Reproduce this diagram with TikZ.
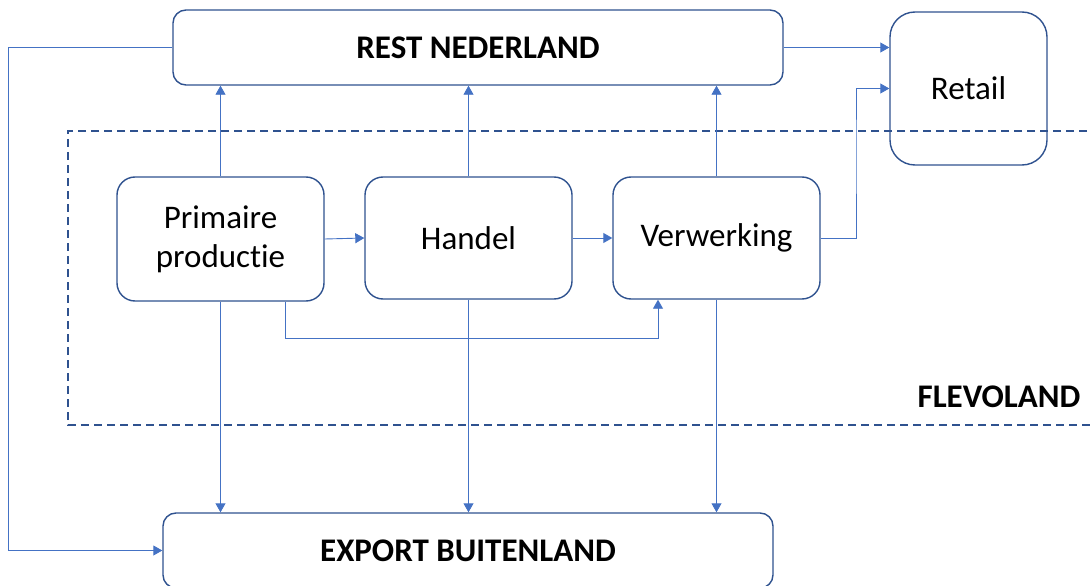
\documentclass[tikz,border=0pt]{standalone}
\usepackage{fontspec}
\setmainfont{Carlito}[Ligatures=NoCommon]
\usetikzlibrary{arrows.meta}
\definecolor{ketenRand}{HTML}{2F528F}
\definecolor{ketenLijn}{HTML}{4472C4}
\tikzset{
  keten blok/.style={draw=ketenRand, line width=1.4pt, fill=white, rounded corners=18pt,
    align=center, inner sep=0pt, font=\fontsize{33}{39}\selectfont},
  keten kop/.style={keten blok, rounded corners=13pt, font=\fontsize{33}{39}\selectfont\bfseries},
  keten pijl/.style={draw=ketenLijn, line width=0.9pt, -{Triangle[length=9pt,width=10pt]}},
  keten grens/.style={draw=ketenRand, line width=1.4pt, dash pattern=on 8pt off 5pt},
  keten label/.style={font=\fontsize{33}{39}\selectfont\bfseries, text=black},
}

\begin{document}
\begin{tikzpicture}[x=1pt, y=-1pt]
  \useasboundingbox (0,0) rectangle (1090,586);

  % Flevoland boundary
  \draw[keten grens] (1100,131) -- (68,131) -- (68,425) -- (1100,425);
  \node[keten label, anchor=east] (flevo) at (1084,397) {FLEVOLAND};

  % outside blocks
  \node[keten kop, minimum width=610pt, minimum height=75pt] (rest) at (478,47.5) {REST NEDERLAND};
  \node[keten kop, minimum width=610pt, minimum height=75pt] (export) at (468,550.5) {EXPORT BUITENLAND};
  \node[keten blok, fill=none, rounded corners=25pt, minimum width=157pt, minimum height=153pt] (retail) at (968.5,88.5) {Retail};

  % chain inside Flevoland
  \node[keten blok, minimum width=207pt, minimum height=124pt] (prim) at (220.5,239) {Primaire\\productie};
  \node[keten blok, minimum width=207pt, minimum height=122pt] (handel) at (468.5,238) {Handel};
  \node[keten blok, minimum width=207pt, minimum height=122pt] (verw) at (716.5,238) {Verwerking};

  % flows
  \draw[keten pijl] (prim.east) -- (handel.west);
  \draw[keten pijl] (handel.east) -- (verw.west);
  \draw[keten pijl] (prim.south -| 285,0) -- (285,338) -| (verw.south -| 658,0);
  \foreach \b in {prim,handel,verw} {
    \draw[keten pijl] (\b.north) -- (\b.north |- rest.south);
    \draw[keten pijl] (\b.south) -- (\b.south |- export.north);
  }
  \draw[keten pijl] (rest.east) -- (rest.east -| retail.west);
  \draw[keten pijl] (verw.east) -| (856,150) |- (retail.west);
  \draw[keten pijl] (rest.west) -- (8,47.5) |- (export.west);
\end{tikzpicture}
\end{document}
